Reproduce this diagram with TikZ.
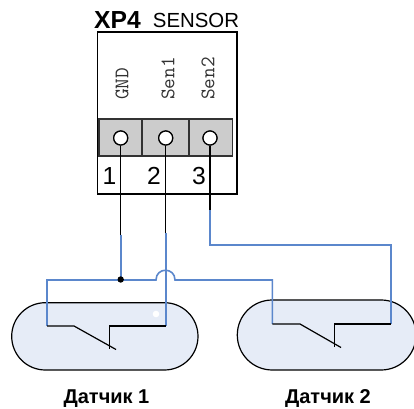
\documentclass[tikz,border=0pt]{standalone}
\usepackage{fontspec}
\setmainfont{Liberation Sans}
\definecolor{wireblue}{RGB}{91,135,204}
\definecolor{fillblue}{RGB}{230,236,247}
\definecolor{termgray}{RGB}{204,204,204}
\definecolor{edgegray}{RGB}{50,50,50}
\tikzset{
 x=0.75pt,y=-0.75pt,
 bluewire/.style={draw=wireblue,line width=1.2pt},
 blackwire/.style={draw=black,line width=0.9pt},
 body/.style={draw=black,line width=0.9pt,fill=fillblue},
 term/.style={draw=edgegray,line width=1.2pt,fill=termgray},
 pin/.style={circle,draw=black,line width=0.9pt,fill=white,minimum size=10.5pt,inner sep=0pt},
 sig/.style={font=\ttfamily\fontsize{15.5}{17}\selectfont,text=edgegray,rotate=90,anchor=west,inner sep=0pt},
 num/.style={font=\fontsize{18.5}{20}\selectfont,inner sep=0pt},
 cap1/.style={font=\bfseries\fontsize{15}{17}\selectfont,inner sep=0pt},
}
\begin{document}
\begin{tikzpicture}
\useasboundingbox (0,0) rectangle (414,409);
\clip (0,0) rectangle (414,409);
\fill[white] (0,0) rectangle (414,409);
% bodies
\draw[body,rounded corners=25.2pt] (11.7,302.7) rectangle (198,370);
\draw[body,rounded corners=26.2pt] (237.3,300) rectangle (416,370);
\fill[white] (156,314) circle[radius=3.3];
% connector box
\draw[line width=0.9pt] (97.7,32) rectangle (237,194);
\draw[term] (99,119) rectangle (141.7,156);
\draw[term] (141.7,119) rectangle (188.7,156);
\draw[term] (188.7,119) rectangle (232.3,156);
\node[pin] (p1) at (120.7,138) {};
\node[pin] (p2) at (165.7,138) {};
\node[pin] (p3) at (210,138) {};
\node[sig] at (122,100) {GND};
\node[sig] at (168,100) {Sen1};
\node[sig] at (208,100) {Sen2};
\node[num] at (109.5,176) {1};
\node[num] at (154,176) {2};
\node[num] at (199,176) {3};
\node[font=\bfseries\fontsize{18.5}{20}\selectfont,inner sep=0pt] at (117.5,20) {XP4};
\node[font=\fontsize{15.3}{16}\selectfont,inner sep=0pt] at (196,20) {SENSOR};
% named wire points
\coordinate (j) at (120.7,279.5);
\coordinate (a1) at (120.7,235);
\coordinate (a2) at (165.7,233);
\coordinate (a3) at (210,210);
\coordinate (s1a) at (47,326);
\coordinate (s1d) at (165.7,326);
\coordinate (s2a) at (272.3,324);
\coordinate (s2d) at (390.7,324);
% blue
\draw[bluewire] (a1) -- (j);
\draw[bluewire] (a2) -- (s1d);
\draw[bluewire] (s1a) -- (47,280) -- (156,280) .. controls (156,267) and (175,267) .. (175,280) -- (272.3,280) -- (s2a);
\draw[bluewire] (a3) -- (210,245) -- (390.7,245) -- (s2d);
% black
\draw[blackwire] (p1) -- (a1);
\draw[blackwire] (p2) -- (a2);
\draw[blackwire] (p3) -- (a3);
\node[pin] at (p1) {};
\node[pin] at (p2) {};
\node[pin] at (p3) {};
\draw[blackwire] (s1a) -- (74,326) -- (116,349.5);
\draw[blackwire] (s1d) -- (109.5,326) -- (109.5,349.5);
\draw[blackwire] (s2a) -- (300,324) -- (341,347.5);
\draw[blackwire] (s2d) -- (334.7,324) -- (334.7,347.5);
\fill[black] (j) circle[radius=3.2];
\node[cap1] at (106.5,398.5) {Датчик 1};
\node[cap1] at (328,398.5) {Датчик 2};
\end{tikzpicture}
\end{document}
